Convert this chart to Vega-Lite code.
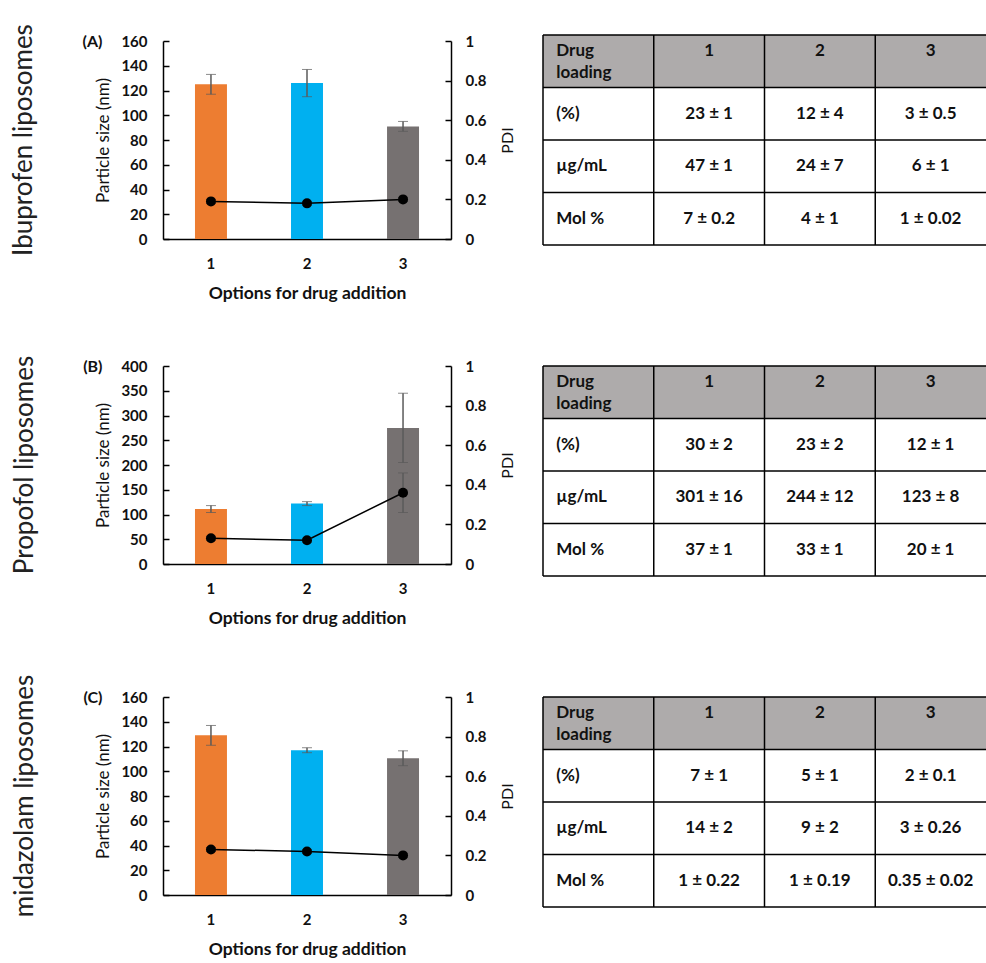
{
  "$schema": "https://vega.github.io/schema/vega-lite/v6.json",
  "padding": {"left": 11, "top": 24, "right": 0, "bottom": 0},
  "autosize": {"type": "pad"},
  "columns": 2,
  "bounds": "flush",
  "center": true,
  "spacing": {"row": 121, "column": 92},
  "datasets": {
    "size": [
      {"drug": "Ibuprofen", "option": "1", "size": 125, "size_sd": 8, "pdi": 0.19, "pdi_sd": 0.01},
      {"drug": "Ibuprofen", "option": "2", "size": 126, "size_sd": 11, "pdi": 0.18, "pdi_sd": 0.01},
      {"drug": "Ibuprofen", "option": "3", "size": 91, "size_sd": 4, "pdi": 0.2, "pdi_sd": 0.01},
      {"drug": "Propofol", "option": "1", "size": 111, "size_sd": 7, "pdi": 0.13, "pdi_sd": 0.01},
      {"drug": "Propofol", "option": "2", "size": 122, "size_sd": 4, "pdi": 0.12, "pdi_sd": 0.01},
      {"drug": "Propofol", "option": "3", "size": 275, "size_sd": 70, "pdi": 0.36, "pdi_sd": 0.1},
      {"drug": "midazolam", "option": "1", "size": 129, "size_sd": 8, "pdi": 0.23, "pdi_sd": 0.01},
      {"drug": "midazolam", "option": "2", "size": 117, "size_sd": 2, "pdi": 0.22, "pdi_sd": 0.01},
      {"drug": "midazolam", "option": "3", "size": 110.5, "size_sd": 6, "pdi": 0.2, "pdi_sd": 0.01}
    ],
    "loading": [
      {"drug": "Ibuprofen", "row": "Drug loading", "col": "label", "text": "Drug\nloading"},
      {"drug": "Ibuprofen", "row": "Drug loading", "col": "1", "text": "1"},
      {"drug": "Ibuprofen", "row": "Drug loading", "col": "2", "text": "2"},
      {"drug": "Ibuprofen", "row": "Drug loading", "col": "3", "text": "3"},
      {"drug": "Ibuprofen", "row": "(%)", "col": "label", "text": "(%)"},
      {"drug": "Ibuprofen", "row": "(%)", "col": "1", "text": "23 ± 1"},
      {"drug": "Ibuprofen", "row": "(%)", "col": "2", "text": "12 ± 4"},
      {"drug": "Ibuprofen", "row": "(%)", "col": "3", "text": "3 ± 0.5"},
      {"drug": "Ibuprofen", "row": "µg/mL", "col": "label", "text": "µg/mL"},
      {"drug": "Ibuprofen", "row": "µg/mL", "col": "1", "text": "47 ± 1"},
      {"drug": "Ibuprofen", "row": "µg/mL", "col": "2", "text": "24 ± 7"},
      {"drug": "Ibuprofen", "row": "µg/mL", "col": "3", "text": "6 ± 1"},
      {"drug": "Ibuprofen", "row": "Mol %", "col": "label", "text": "Mol %"},
      {"drug": "Ibuprofen", "row": "Mol %", "col": "1", "text": "7 ± 0.2"},
      {"drug": "Ibuprofen", "row": "Mol %", "col": "2", "text": "4 ± 1"},
      {"drug": "Ibuprofen", "row": "Mol %", "col": "3", "text": "1 ± 0.02"},
      {"drug": "Propofol", "row": "Drug loading", "col": "label", "text": "Drug\nloading"},
      {"drug": "Propofol", "row": "Drug loading", "col": "1", "text": "1"},
      {"drug": "Propofol", "row": "Drug loading", "col": "2", "text": "2"},
      {"drug": "Propofol", "row": "Drug loading", "col": "3", "text": "3"},
      {"drug": "Propofol", "row": "(%)", "col": "label", "text": "(%)"},
      {"drug": "Propofol", "row": "(%)", "col": "1", "text": "30 ± 2"},
      {"drug": "Propofol", "row": "(%)", "col": "2", "text": "23 ± 2"},
      {"drug": "Propofol", "row": "(%)", "col": "3", "text": "12 ± 1"},
      {"drug": "Propofol", "row": "µg/mL", "col": "label", "text": "µg/mL"},
      {"drug": "Propofol", "row": "µg/mL", "col": "1", "text": "301 ± 16"},
      {"drug": "Propofol", "row": "µg/mL", "col": "2", "text": "244 ± 12"},
      {"drug": "Propofol", "row": "µg/mL", "col": "3", "text": "123 ± 8"},
      {"drug": "Propofol", "row": "Mol %", "col": "label", "text": "Mol %"},
      {"drug": "Propofol", "row": "Mol %", "col": "1", "text": "37 ± 1"},
      {"drug": "Propofol", "row": "Mol %", "col": "2", "text": "33 ± 1"},
      {"drug": "Propofol", "row": "Mol %", "col": "3", "text": "20 ± 1"},
      {"drug": "midazolam", "row": "Drug loading", "col": "label", "text": "Drug\nloading"},
      {"drug": "midazolam", "row": "Drug loading", "col": "1", "text": "1"},
      {"drug": "midazolam", "row": "Drug loading", "col": "2", "text": "2"},
      {"drug": "midazolam", "row": "Drug loading", "col": "3", "text": "3"},
      {"drug": "midazolam", "row": "(%)", "col": "label", "text": "(%)"},
      {"drug": "midazolam", "row": "(%)", "col": "1", "text": "7 ± 1"},
      {"drug": "midazolam", "row": "(%)", "col": "2", "text": "5 ± 1"},
      {"drug": "midazolam", "row": "(%)", "col": "3", "text": "2 ± 0.1"},
      {"drug": "midazolam", "row": "µg/mL", "col": "label", "text": "µg/mL"},
      {"drug": "midazolam", "row": "µg/mL", "col": "1", "text": "14 ± 2"},
      {"drug": "midazolam", "row": "µg/mL", "col": "2", "text": "9 ± 2"},
      {"drug": "midazolam", "row": "µg/mL", "col": "3", "text": "3 ± 0.26"},
      {"drug": "midazolam", "row": "Mol %", "col": "label", "text": "Mol %"},
      {"drug": "midazolam", "row": "Mol %", "col": "1", "text": "1 ± 0.22"},
      {"drug": "midazolam", "row": "Mol %", "col": "2", "text": "1 ± 0.19"},
      {"drug": "midazolam", "row": "Mol %", "col": "3", "text": "0.35 ± 0.02"}
    ]
  },
  "concat": [
    {
      "width": 288, "height": 198,
      "title": {"text": "Ibuprofen liposomes", "orient": "left", "frame": "group", "anchor": "middle", "offset": 45},
      "data": {"name": "size"},
      "transform": [{"filter": "datum.drug == 'Ibuprofen'"}],
      "encoding": {"x": {"field": "option", "type": "ordinal", "scale": {"paddingInner": 0.667, "paddingOuter": 0.333}, "axis": {"title": "Options for drug addition"}}},
      "layer": [
        {"encoding": {"y": {"field": "size", "type": "quantitative", "scale": {"domain": [0, 160]}, "axis": {"title": "Particle size (nm)", "values": [0, 20, 40, 60, 80, 100, 120, 140, 160]}}},
         "layer": [
           {"mark": {"type": "bar"}, "encoding": {"color": {"field": "option", "type": "nominal", "scale": {"domain": ["1", "2", "3"], "range": ["#ed7d31", "#00b0f0", "#767171"]}, "legend": null}}},
           {"mark": {"type": "errorbar", "ticks": {"color": "#5a5a5a", "size": 10}, "rule": {"color": "#5a5a5a"}}, "encoding": {"yError": {"field": "size_sd"}}}
         ]},
        {"encoding": {"y": {"field": "pdi", "type": "quantitative", "scale": {"domain": [0, 1]}, "axis": {"orient": "right", "title": "PDI", "values": [0, 0.2, 0.4, 0.6, 0.8, 1], "format": "~g"}}},
         "layer": [
           {"mark": {"type": "line"}, "encoding": {}},
           {"mark": {"type": "errorbar", "ticks": {"color": "#5a5a5a", "size": 10}, "rule": {"color": "#5a5a5a"}}, "encoding": {"yError": {"field": "pdi_sd"}}},
           {"mark": {"type": "point"}, "encoding": {}}
         ]},
        {"mark": {"type": "point", "opacity": 0}, "encoding": {"y": {"field": "pdi", "type": "quantitative", "axis": {"orient": "left", "title": "(A)", "domain": false, "ticks": false, "labels": false, "titleAngle": 0, "titleAnchor": "end", "titleAlign": "right", "titleBaseline": "middle", "titlePadding": 61, "titleFontSize": 16, "titleFontWeight": "bold"}}}}
      ],
      "resolve": {"scale": {"y": "independent"}}
    },
    {
      "width": 443, "height": 210,
      "data": {"name": "loading"},
      "transform": [{"filter": "datum.drug == 'Ibuprofen'"}],
      "layer": [
        {"mark": {"type": "rect"}, "encoding": {
          "x": {"field": "col", "type": "nominal", "sort": ["label", "1", "2", "3"], "scale": {"paddingInner": 0, "paddingOuter": 0}, "axis": null},
          "y": {"field": "row", "type": "nominal", "sort": ["Drug loading", "(%)", "µg/mL", "Mol %"], "scale": {"paddingInner": 0, "paddingOuter": 0}, "axis": null},
          "fill": {"condition": {"test": "datum.row == 'Drug loading'", "value": "#aeabab"}, "value": "#ffffff"}}},
        {"transform": [{"filter": "datum.col == 'label'"}], "mark": {"type": "rule"}, "encoding": {"y": {"field": "row", "type": "nominal", "sort": ["Drug loading", "(%)", "µg/mL", "Mol %"], "bandPosition": 0}}},
        {"transform": [{"filter": "datum.col == 'label' && datum.row == 'Mol %'"}], "mark": {"type": "rule"}, "encoding": {"y": {"field": "row", "type": "nominal", "sort": ["Drug loading", "(%)", "µg/mL", "Mol %"], "bandPosition": 1}}},
        {"transform": [{"filter": "datum.row == 'Drug loading'"}], "mark": {"type": "rule"}, "encoding": {"x": {"field": "col", "type": "nominal", "sort": ["label", "1", "2", "3"], "bandPosition": 0}}},
        {"transform": [{"filter": "datum.col == 'label' && datum.row == 'Drug loading'"}], "mark": {"type": "text", "align": "left"}, "encoding": {
          "x": {"field": "col", "type": "nominal", "sort": ["label", "1", "2", "3"], "bandPosition": 0.12},
          "y": {"field": "row", "type": "nominal", "sort": ["Drug loading", "(%)", "µg/mL", "Mol %"], "bandPosition": 0.3},
          "text": {"field": "text"}}},
        {"transform": [{"filter": "datum.col == 'label' && datum.row != 'Drug loading'"}], "mark": {"type": "text", "align": "left"}, "encoding": {
          "x": {"field": "col", "type": "nominal", "sort": ["label", "1", "2", "3"], "bandPosition": 0.12},
          "y": {"field": "row", "type": "nominal", "sort": ["Drug loading", "(%)", "µg/mL", "Mol %"]},
          "text": {"field": "text"}}},
        {"transform": [{"filter": "datum.col != 'label' && datum.row == 'Drug loading'"}], "mark": {"type": "text"}, "encoding": {
          "x": {"field": "col", "type": "nominal", "sort": ["label", "1", "2", "3"]},
          "y": {"field": "row", "type": "nominal", "sort": ["Drug loading", "(%)", "µg/mL", "Mol %"], "bandPosition": 0.3},
          "text": {"field": "text"}}},
        {"transform": [{"filter": "datum.col != 'label' && datum.row != 'Drug loading'"}], "mark": {"type": "text"}, "encoding": {
          "x": {"field": "col", "type": "nominal", "sort": ["label", "1", "2", "3"]},
          "y": {"field": "row", "type": "nominal", "sort": ["Drug loading", "(%)", "µg/mL", "Mol %"]},
          "text": {"field": "text"}}}
      ]
    },
    {
      "width": 288, "height": 198,
      "title": {"text": "Propofol liposomes", "orient": "left", "frame": "group", "anchor": "middle", "offset": 45},
      "data": {"name": "size"},
      "transform": [{"filter": "datum.drug == 'Propofol'"}],
      "encoding": {"x": {"field": "option", "type": "ordinal", "scale": {"paddingInner": 0.667, "paddingOuter": 0.333}, "axis": {"title": "Options for drug addition"}}},
      "layer": [
        {"encoding": {"y": {"field": "size", "type": "quantitative", "scale": {"domain": [0, 400]}, "axis": {"title": "Particle size (nm)", "values": [0, 50, 100, 150, 200, 250, 300, 350, 400]}}},
         "layer": [
           {"mark": {"type": "bar"}, "encoding": {"color": {"field": "option", "type": "nominal", "scale": {"domain": ["1", "2", "3"], "range": ["#ed7d31", "#00b0f0", "#767171"]}, "legend": null}}},
           {"mark": {"type": "errorbar", "ticks": {"color": "#5a5a5a", "size": 10}, "rule": {"color": "#5a5a5a"}}, "encoding": {"yError": {"field": "size_sd"}}}
         ]},
        {"encoding": {"y": {"field": "pdi", "type": "quantitative", "scale": {"domain": [0, 1]}, "axis": {"orient": "right", "title": "PDI", "values": [0, 0.2, 0.4, 0.6, 0.8, 1], "format": "~g"}}},
         "layer": [
           {"mark": {"type": "line"}, "encoding": {}},
           {"mark": {"type": "errorbar", "ticks": {"color": "#5a5a5a", "size": 10}, "rule": {"color": "#5a5a5a"}}, "encoding": {"yError": {"field": "pdi_sd"}}},
           {"mark": {"type": "point"}, "encoding": {}}
         ]},
        {"mark": {"type": "point", "opacity": 0}, "encoding": {"y": {"field": "pdi", "type": "quantitative", "axis": {"orient": "left", "title": "(B)", "domain": false, "ticks": false, "labels": false, "titleAngle": 0, "titleAnchor": "end", "titleAlign": "right", "titleBaseline": "middle", "titlePadding": 61, "titleFontSize": 16, "titleFontWeight": "bold"}}}}
      ],
      "resolve": {"scale": {"y": "independent"}}
    },
    {
      "width": 443, "height": 210,
      "data": {"name": "loading"},
      "transform": [{"filter": "datum.drug == 'Propofol'"}],
      "layer": [
        {"mark": {"type": "rect"}, "encoding": {
          "x": {"field": "col", "type": "nominal", "sort": ["label", "1", "2", "3"], "scale": {"paddingInner": 0, "paddingOuter": 0}, "axis": null},
          "y": {"field": "row", "type": "nominal", "sort": ["Drug loading", "(%)", "µg/mL", "Mol %"], "scale": {"paddingInner": 0, "paddingOuter": 0}, "axis": null},
          "fill": {"condition": {"test": "datum.row == 'Drug loading'", "value": "#aeabab"}, "value": "#ffffff"}}},
        {"transform": [{"filter": "datum.col == 'label'"}], "mark": {"type": "rule"}, "encoding": {"y": {"field": "row", "type": "nominal", "sort": ["Drug loading", "(%)", "µg/mL", "Mol %"], "bandPosition": 0}}},
        {"transform": [{"filter": "datum.col == 'label' && datum.row == 'Mol %'"}], "mark": {"type": "rule"}, "encoding": {"y": {"field": "row", "type": "nominal", "sort": ["Drug loading", "(%)", "µg/mL", "Mol %"], "bandPosition": 1}}},
        {"transform": [{"filter": "datum.row == 'Drug loading'"}], "mark": {"type": "rule"}, "encoding": {"x": {"field": "col", "type": "nominal", "sort": ["label", "1", "2", "3"], "bandPosition": 0}}},
        {"transform": [{"filter": "datum.col == 'label' && datum.row == 'Drug loading'"}], "mark": {"type": "text", "align": "left"}, "encoding": {
          "x": {"field": "col", "type": "nominal", "sort": ["label", "1", "2", "3"], "bandPosition": 0.12},
          "y": {"field": "row", "type": "nominal", "sort": ["Drug loading", "(%)", "µg/mL", "Mol %"], "bandPosition": 0.3},
          "text": {"field": "text"}}},
        {"transform": [{"filter": "datum.col == 'label' && datum.row != 'Drug loading'"}], "mark": {"type": "text", "align": "left"}, "encoding": {
          "x": {"field": "col", "type": "nominal", "sort": ["label", "1", "2", "3"], "bandPosition": 0.12},
          "y": {"field": "row", "type": "nominal", "sort": ["Drug loading", "(%)", "µg/mL", "Mol %"]},
          "text": {"field": "text"}}},
        {"transform": [{"filter": "datum.col != 'label' && datum.row == 'Drug loading'"}], "mark": {"type": "text"}, "encoding": {
          "x": {"field": "col", "type": "nominal", "sort": ["label", "1", "2", "3"]},
          "y": {"field": "row", "type": "nominal", "sort": ["Drug loading", "(%)", "µg/mL", "Mol %"], "bandPosition": 0.3},
          "text": {"field": "text"}}},
        {"transform": [{"filter": "datum.col != 'label' && datum.row != 'Drug loading'"}], "mark": {"type": "text"}, "encoding": {
          "x": {"field": "col", "type": "nominal", "sort": ["label", "1", "2", "3"]},
          "y": {"field": "row", "type": "nominal", "sort": ["Drug loading", "(%)", "µg/mL", "Mol %"]},
          "text": {"field": "text"}}}
      ]
    },
    {
      "width": 288, "height": 198,
      "title": {"text": "midazolam liposomes", "orient": "left", "frame": "group", "anchor": "middle", "offset": 45},
      "data": {"name": "size"},
      "transform": [{"filter": "datum.drug == 'midazolam'"}],
      "encoding": {"x": {"field": "option", "type": "ordinal", "scale": {"paddingInner": 0.667, "paddingOuter": 0.333}, "axis": {"title": "Options for drug addition"}}},
      "layer": [
        {"encoding": {"y": {"field": "size", "type": "quantitative", "scale": {"domain": [0, 160]}, "axis": {"title": "Particle size (nm)", "values": [0, 20, 40, 60, 80, 100, 120, 140, 160]}}},
         "layer": [
           {"mark": {"type": "bar"}, "encoding": {"color": {"field": "option", "type": "nominal", "scale": {"domain": ["1", "2", "3"], "range": ["#ed7d31", "#00b0f0", "#767171"]}, "legend": null}}},
           {"mark": {"type": "errorbar", "ticks": {"color": "#5a5a5a", "size": 10}, "rule": {"color": "#5a5a5a"}}, "encoding": {"yError": {"field": "size_sd"}}}
         ]},
        {"encoding": {"y": {"field": "pdi", "type": "quantitative", "scale": {"domain": [0, 1]}, "axis": {"orient": "right", "title": "PDI", "values": [0, 0.2, 0.4, 0.6, 0.8, 1], "format": "~g"}}},
         "layer": [
           {"mark": {"type": "line"}, "encoding": {}},
           {"mark": {"type": "errorbar", "ticks": {"color": "#5a5a5a", "size": 10}, "rule": {"color": "#5a5a5a"}}, "encoding": {"yError": {"field": "pdi_sd"}}},
           {"mark": {"type": "point"}, "encoding": {}}
         ]},
        {"mark": {"type": "point", "opacity": 0}, "encoding": {"y": {"field": "pdi", "type": "quantitative", "axis": {"orient": "left", "title": "(C)", "domain": false, "ticks": false, "labels": false, "titleAngle": 0, "titleAnchor": "end", "titleAlign": "right", "titleBaseline": "middle", "titlePadding": 61, "titleFontSize": 16, "titleFontWeight": "bold"}}}}
      ],
      "resolve": {"scale": {"y": "independent"}}
    },
    {
      "width": 443, "height": 210,
      "data": {"name": "loading"},
      "transform": [{"filter": "datum.drug == 'midazolam'"}],
      "layer": [
        {"mark": {"type": "rect"}, "encoding": {
          "x": {"field": "col", "type": "nominal", "sort": ["label", "1", "2", "3"], "scale": {"paddingInner": 0, "paddingOuter": 0}, "axis": null},
          "y": {"field": "row", "type": "nominal", "sort": ["Drug loading", "(%)", "µg/mL", "Mol %"], "scale": {"paddingInner": 0, "paddingOuter": 0}, "axis": null},
          "fill": {"condition": {"test": "datum.row == 'Drug loading'", "value": "#aeabab"}, "value": "#ffffff"}}},
        {"transform": [{"filter": "datum.col == 'label'"}], "mark": {"type": "rule"}, "encoding": {"y": {"field": "row", "type": "nominal", "sort": ["Drug loading", "(%)", "µg/mL", "Mol %"], "bandPosition": 0}}},
        {"transform": [{"filter": "datum.col == 'label' && datum.row == 'Mol %'"}], "mark": {"type": "rule"}, "encoding": {"y": {"field": "row", "type": "nominal", "sort": ["Drug loading", "(%)", "µg/mL", "Mol %"], "bandPosition": 1}}},
        {"transform": [{"filter": "datum.row == 'Drug loading'"}], "mark": {"type": "rule"}, "encoding": {"x": {"field": "col", "type": "nominal", "sort": ["label", "1", "2", "3"], "bandPosition": 0}}},
        {"transform": [{"filter": "datum.col == 'label' && datum.row == 'Drug loading'"}], "mark": {"type": "text", "align": "left"}, "encoding": {
          "x": {"field": "col", "type": "nominal", "sort": ["label", "1", "2", "3"], "bandPosition": 0.12},
          "y": {"field": "row", "type": "nominal", "sort": ["Drug loading", "(%)", "µg/mL", "Mol %"], "bandPosition": 0.3},
          "text": {"field": "text"}}},
        {"transform": [{"filter": "datum.col == 'label' && datum.row != 'Drug loading'"}], "mark": {"type": "text", "align": "left"}, "encoding": {
          "x": {"field": "col", "type": "nominal", "sort": ["label", "1", "2", "3"], "bandPosition": 0.12},
          "y": {"field": "row", "type": "nominal", "sort": ["Drug loading", "(%)", "µg/mL", "Mol %"]},
          "text": {"field": "text"}}},
        {"transform": [{"filter": "datum.col != 'label' && datum.row == 'Drug loading'"}], "mark": {"type": "text"}, "encoding": {
          "x": {"field": "col", "type": "nominal", "sort": ["label", "1", "2", "3"]},
          "y": {"field": "row", "type": "nominal", "sort": ["Drug loading", "(%)", "µg/mL", "Mol %"], "bandPosition": 0.3},
          "text": {"field": "text"}}},
        {"transform": [{"filter": "datum.col != 'label' && datum.row != 'Drug loading'"}], "mark": {"type": "text"}, "encoding": {
          "x": {"field": "col", "type": "nominal", "sort": ["label", "1", "2", "3"]},
          "y": {"field": "row", "type": "nominal", "sort": ["Drug loading", "(%)", "µg/mL", "Mol %"]},
          "text": {"field": "text"}}}
      ]
    }
  ],
  "config": {
    "font": "Lato",
    "view": {"stroke": null},
    "background": "#ffffff",
    "title": {"font": "Lato", "fontSize": 26, "fontWeight": "normal", "color": "#222222"},
    "axis": {"grid": false, "labelFont": "Lato", "labelFontSize": 15, "labelFontWeight": "bold", "labelColor": "#111111", "domainColor": "#000000", "domainWidth": 1.5, "tickColor": "#000000", "tickWidth": 1.5, "titleFont": "Lato", "titleColor": "#111111"},
    "axisX": {"labelAngle": 0, "ticks": false, "labelPadding": 17, "titlePadding": 13, "titleFontSize": 17.5, "titleFontWeight": "bold"},
    "axisY": {"tickSize": -6, "labelPadding": 22, "titlePadding": 8, "titleFontSize": 17, "titleFontWeight": "normal"},
    "axisRight": {"labelPadding": 20, "titleAngle": 270, "titleBaseline": "top", "titlePadding": 14, "titleFontSize": 16},
    "line": {"color": "#000000", "strokeWidth": 1.5},
    "point": {"filled": true, "color": "#000000", "size": 100, "opacity": 1},
    "rule": {"color": "#000000", "strokeWidth": 1.5},
    "errorbar": {"thickness": 1.5},
    "text": {"font": "Lato", "fontSize": 17, "fontWeight": "bold", "color": "#111111", "lineBreak": "\n", "lineHeight": 22}
  }
}
